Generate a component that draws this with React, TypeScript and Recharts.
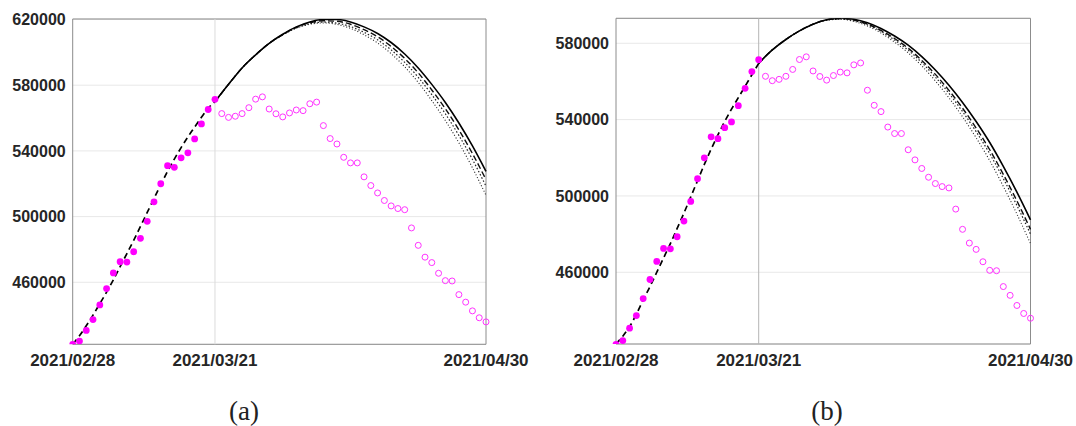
import React from "react";
import {
  ComposedChart,
  Line,
  XAxis,
  YAxis,
  CartesianGrid,
  ReferenceLine,
  ReferenceArea,
} from "recharts";

// x axis: day index counted from 2021/02/28
const xTickDays = [0, 21, 61];
const xTickLabels = ["2021/02/28", "2021/03/21", "2021/04/30"];

// observed data, days 0..21 (filled) and 22..61 (open)
const observedFilled = [
  422200, 424200, 430700, 437300, 446200, 456200, 465700, 472500, 472300, 478600, 486800,
  497100, 509000, 520000, 531000, 530000, 535800, 538800, 547300, 556400, 565200, 571400,
];
const observedOpen = [
  562700, 560400, 561100, 562700, 566300, 571500, 572900, 565500, 562600, 560700, 563100,
  564900, 564500, 568700, 569700, 555400, 547500, 544200, 536100, 532700, 532700, 524200,
  518900, 514400, 509800, 506500, 504900, 504200, 493100, 482500, 475300, 472000, 465500,
  461000, 460800, 452500, 447900, 442600, 438400, 435900,
];

// fitted curve, days 0..21
const fitA = [
  422500, 427500, 433500, 440000, 447000, 454000, 461500, 469500, 477500, 485500, 494000,
  502500, 511000, 519500, 527500, 535000, 542000, 548500, 554500, 560500, 566000, 570000,
];
const fitB = [
  422400, 426500, 431500, 438000, 445500, 452500, 460000, 467500, 475000, 483000, 491000,
  499500, 508000, 516500, 524500, 532000, 539000, 545500, 551500, 557500, 563500, 569500,
];

// projections, sampled every 2 days
const projDays = [21, 23, 25, 27, 29, 31, 33, 35, 37, 39, 41, 43, 45, 47, 49, 51, 53, 55, 57, 59, 61];

const solidA = [570000, 580500, 590500, 598500, 605500, 611000, 615500, 618500, 620000, 620000, 618500, 615500, 611500, 606000, 599000, 590500, 580500, 569500, 557000, 543000, 527500];
const dashedA = [570000, 580500, 590500, 598500, 605500, 610800, 615200, 618000, 619200, 618900, 617100, 613800, 609500, 603600, 596300, 587500, 577100, 565700, 552800, 538400, 522500];
const dotted1A = [570000, 580500, 590500, 598500, 605500, 610700, 614900, 617500, 618400, 617800, 615700, 612200, 607600, 601500, 593900, 584800, 574200, 562600, 549400, 534800, 518500];
const dotted2A = [570000, 580500, 590500, 598500, 605500, 610600, 614700, 617100, 617900, 617000, 614600, 610700, 605700, 599200, 591200, 581700, 570600, 558500, 544900, 529700, 513000];

const solidB = [569500, 576500, 582000, 586500, 590000, 592300, 593200, 592600, 590800, 587800, 583800, 579000, 573000, 566000, 558000, 549000, 539000, 528000, 515500, 502000, 487500];
const dashedB = [569500, 576500, 582000, 586500, 590000, 592300, 593000, 592200, 590100, 586800, 582500, 577400, 571000, 563700, 555300, 546000, 535600, 524200, 511300, 497400, 482500];
const dotted1B = [569500, 576500, 582000, 586500, 590000, 592200, 592800, 591900, 589700, 586200, 581700, 576400, 569900, 562300, 553800, 544200, 533700, 522100, 509100, 495000, 480000];
const dotted2B = [569500, 576500, 582000, 586500, 590000, 592100, 592600, 591500, 589100, 585400, 580600, 575000, 568200, 560300, 551400, 541500, 530500, 518500, 505000, 490500, 475000];

const yTicksA = [460000, 500000, 540000, 580000, 620000];
const yTicksB = [460000, 500000, 540000, 580000];

function buildRows(fit: number[], p1: number[], p2: number[], p3: number[], p4: number[]) {
  const rows: any[] = [];
  const total = observedFilled.length + observedOpen.length;
  for (let day = 0; day < total; day++) {
    const row: any = { day };
    if (day < observedFilled.length) row.obs = observedFilled[day];
    else row.open = observedOpen[day - observedFilled.length];
    if (day < fit.length) row.fit = fit[day];
    const k = projDays.indexOf(day);
    if (k >= 0) {
      row.p1 = p1[k];
      row.p2 = p2[k];
      row.p3 = p3[k];
      row.p4 = p4[k];
    }
    rows.push(row);
  }
  return rows;
}

const rowsA = buildRows(fitA, solidA, dashedA, dotted1A, dotted2A);
const rowsB = buildRows(fitB, solidB, dashedB, dotted1B, dotted2B);

const yTickStyle = {
  fill: "#262626",
  fontSize: 16,
  fontWeight: 700,
  fontFamily: "Liberation Sans, Arial, sans-serif",
};
const xTickStyle = { ...yTickStyle, fontSize: 17 };

const filledDot = (props: any) => {
  const { cx, cy, value, index } = props;
  if (value == null || cy == null) return <g key={`f${index}`} />;
  return <circle key={`f${index}`} cx={cx} cy={cy} r={3.4} fill="#ff00ff" stroke="none" />;
};

const openDot = (props: any) => {
  const { cx, cy, value, index } = props;
  if (value == null || cy == null) return <g key={`o${index}`} />;
  return <circle key={`o${index}`} cx={cx} cy={cy} r={3} fill="none" stroke="#ff33ff" strokeWidth={1} />;
};

function Panel({
  rows,
  yDomain,
  yTicks,
  left,
  width,
  margin,
  vGrid,
}: {
  rows: any[];
  yDomain: [number, number];
  yTicks: number[];
  left: number;
  width: number;
  margin: { top: number; right: number; bottom: number; left: number };
  vGrid: string;
}) {
  return (
    <div style={{ position: "absolute", left, top: 0 }}>
      <ComposedChart width={width} height={426} data={rows} margin={margin}>
        <CartesianGrid horizontal vertical={false} stroke="#e8e8e8" />
        <XAxis
          type="number"
          dataKey="day"
          domain={[0, 61]}
          ticks={xTickDays}
          interval={0}
          tickFormatter={(v) => xTickLabels[xTickDays.indexOf(v)]}
          axisLine={false}
          tickLine={false}
          tickSize={0}
          tickMargin={10}
          height={30}
          tick={xTickStyle}
        />
        <YAxis
          type="number"
          domain={yDomain}
          allowDataOverflow
          ticks={yTicks}
          interval={0}
          axisLine={false}
          tickLine={false}
          tickSize={0}
          tickMargin={7}
          width={60}
          tick={yTickStyle}
        />
        <ReferenceLine x={21} stroke={vGrid} strokeWidth={1} />
        <ReferenceArea
          x1={0}
          x2={61}
          y1={yDomain[0]}
          y2={yDomain[1]}
          fill="none"
          stroke="#8c8c8c"
          strokeWidth={1}
          ifOverflow="visible"
        />
        <Line type="monotone" dataKey="fit" stroke="#000" strokeWidth={1.7} strokeDasharray="6 4" dot={false} connectNulls isAnimationActive={false} />
        <Line type="monotone" dataKey="p4" stroke="#222" strokeWidth={1.1} strokeDasharray="1 2" dot={false} connectNulls isAnimationActive={false} />
        <Line type="monotone" dataKey="p3" stroke="#222" strokeWidth={1.2} strokeDasharray="1.5 2" dot={false} connectNulls isAnimationActive={false} />
        <Line type="monotone" dataKey="p2" stroke="#111" strokeWidth={1.4} strokeDasharray="6 3" dot={false} connectNulls isAnimationActive={false} />
        <Line type="monotone" dataKey="p1" stroke="#000" strokeWidth={1.6} dot={false} connectNulls isAnimationActive={false} />
        <Line dataKey="open" stroke="none" dot={openDot} activeDot={false} isAnimationActive={false} />
        <Line dataKey="obs" stroke="none" dot={filledDot} activeDot={false} isAnimationActive={false} />
      </ComposedChart>
    </div>
  );
}

const captionStyle: React.CSSProperties = {
  position: "absolute",
  top: 396,
  transform: "translateX(-50%)",
  fontFamily: "Liberation Serif, serif",
  fontSize: 27,
  lineHeight: "30px",
  color: "#222",
};

export default function App() {
  return (
    <div style={{ position: "relative", width: 1076, height: 426, background: "#fff", overflow: "hidden" }}>
      <style>{"body{margin:0}"}</style>
      <Panel
        rows={rowsA}
        yDomain={[422250, 620300]}
        yTicks={yTicksA}
        left={0}
        width={540}
        margin={{ top: 19, right: 54, bottom: 51.7, left: 12.7 }}
        vGrid="#dcdcdc"
      />
      <Panel
        rows={rowsB}
        yDomain={[422400, 593100]}
        yTicks={yTicksB}
        left={540}
        width={536}
        margin={{ top: 18.3, right: 45.5, bottom: 52, left: 16 }}
        vGrid="#b4b4b4"
      />
      <div style={{ ...captionStyle, left: 244 }}>(a)</div>
      <div style={{ ...captionStyle, left: 827 }}>(b)</div>
    </div>
  );
}
